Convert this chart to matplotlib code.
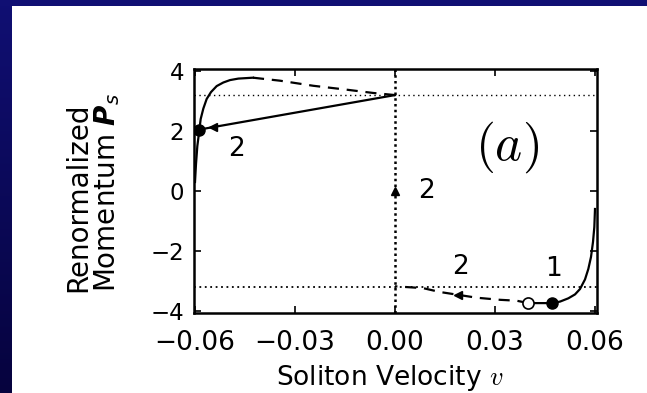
import numpy as np
import matplotlib
matplotlib.use('Agg')
import matplotlib.pyplot as plt
from matplotlib.patches import Rectangle

# data
x_ticks = [-0.06, -0.03, 0.00, 0.03, 0.06]
y_ticks = [-4, -2, 0, 2, 4]

# left branch (solid) and the dashed continuation to v = 0
left_v = [-0.0600, -0.0597, -0.0593, -0.0589, -0.0587, -0.0583, -0.0575, -0.0565,
          -0.0552, -0.0535, -0.0515, -0.0495, -0.0470, -0.0426]
left_p = [0.30, 0.90, 1.50, 1.85, 2.03, 2.40, 2.75, 3.07,
          3.30, 3.50, 3.62, 3.70, 3.75, 3.78]
top_dash_v = [-0.0426, -0.0345, -0.0245, -0.0145, -0.0065, 0.0]
top_dash_p = [3.78, 3.68, 3.51, 3.38, 3.27, 3.20]

# jump back from v = 0 to the left branch
jump_v = [0.0, -0.0587]
jump_p = [3.20, 2.05]

# right branch (solid) and dashed path to v = 0
right_v = [0.0600, 0.0598, 0.0594, 0.0588, 0.0580, 0.0570, 0.0555, 0.0540,
           0.0520, 0.0495, 0.0470, 0.0400]
right_p = [-0.60, -1.20, -1.70, -2.20, -2.60, -2.95, -3.27, -3.45,
           -3.58, -3.69, -3.74, -3.74]
bot_dash_v = [0.0400, 0.0365, 0.0315, 0.0245, 0.0135, 0.0084, 0.0]
bot_dash_p = [-3.74, -3.66, -3.63, -3.56, -3.37, -3.24, -3.18]

p_level = 3.2  # dotted guide lines at +/- this

filled_v = [-0.0587, 0.0470]
filled_p = [2.05, -3.74]
open_v = [0.0400]
open_p = [-3.74]
arrow_v = [-0.0545, 0.0190]
arrow_p = [2.13, -3.47]
tri_v = [0.0]
tri_p = [0.0]

labels = ['2', '2', '2', '1']
label_v = [-0.0475, 0.0070, 0.0195, 0.0475]
label_p = [1.40, 0.00, -2.55, -2.60]
label_ha = ['center', 'left', 'center', 'center']

W, H = 647, 393
fig = plt.figure(figsize=(W / 100, H / 100), dpi=100)
fig.patch.set_facecolor('white')

# blue slide border
grad = np.linspace(0, 1, 256)[:, None]
top_c = np.array([16, 15, 115]) / 255
bot_c = np.array([6, 3, 62]) / 255
band = (top_c[None, None, :] * (1 - grad[:, :, None]) + bot_c[None, None, :] * grad[:, :, None])
bax = fig.add_axes([0, 0, 12 / W, 1])
bax.imshow(band, aspect='auto')
bax.axis('off')
fig.add_artist(Rectangle((0, 1 - 6 / H), 1, 6 / H, transform=fig.transFigure,
                         color='#100F73', lw=0))

ax = fig.add_axes([194 / W, 1 - 313 / H, (597 - 194) / W, (313 - 69) / H])
ax.set_xlim(-0.0603, 0.0606)
ax.set_ylim(-4.07, 4.07)

ax.axhline(p_level, color='black', lw=1.0, linestyle=(0, (1, 2.5)))
ax.axhline(-p_level, lw=1.3, color='black', linestyle=(0, (1, 2)))
ax.axvline(0, lw=1.8, color='black', linestyle=(0, (1, 1.3)))

ax.plot(left_v, left_p, color='black', lw=1.6)
ax.plot(top_dash_v, top_dash_p, color='black', lw=1.6, linestyle=(0, (5, 3.5)))
ax.plot(jump_v, jump_p, color='black', lw=1.6)
ax.plot(right_v, right_p, color='black', lw=1.6)
ax.plot(bot_dash_v, bot_dash_p, color='black', lw=1.6, linestyle=(0, (5, 3.5)))

ax.plot(arrow_v, arrow_p, '<', color='black', ms=6, mec='black')
ax.plot(tri_v, tri_p, '^', color='black', ms=6)
ax.plot(open_v, open_p, 'o', mfc='white', mec='black', ms=8, mew=1.2)
ax.plot(filled_v, filled_p, 'o', color='black', ms=8)

for t, v, p, ha in zip(labels, label_v, label_p, label_ha):
    ax.text(v, p, t, fontsize=19, ha=ha, va='center')

ax.text(0.0335, 1.47, r'$(a)$', fontsize=37, ha='center', va='center', math_fontfamily='cm')

ax.set_xticks(x_ticks)
ax.set_xticklabels(['\u22120.06', '\u22120.03', '0.00', '0.03', '0.06'])
ax.set_yticks(y_ticks)
ax.set_yticklabels(['\u22124', '\u22122', '0', '2', '4'])
ax.tick_params(direction='in', top=True, right=True, length=5, width=1.2)
ax.tick_params(axis='x', labelsize=19, pad=12)
ax.tick_params(axis='y', labelsize=16.5, pad=7)
for s in ax.spines.values():
    s.set_linewidth(1.8)

fig.text(390 / W, 1 - 378 / H, r'Soliton Velocity $v$', fontsize=19,
         ha='center', va='center', math_fontfamily='cm')
fig.text(93 / W, 1 - 292 / H, 'Renormalized\nMomentum $\\mathbfit{P}_s$', fontsize=20,
         rotation=90, ha='center', va='bottom', multialignment='left', linespacing=1.0)

fig.savefig('out.png', dpi=100)
